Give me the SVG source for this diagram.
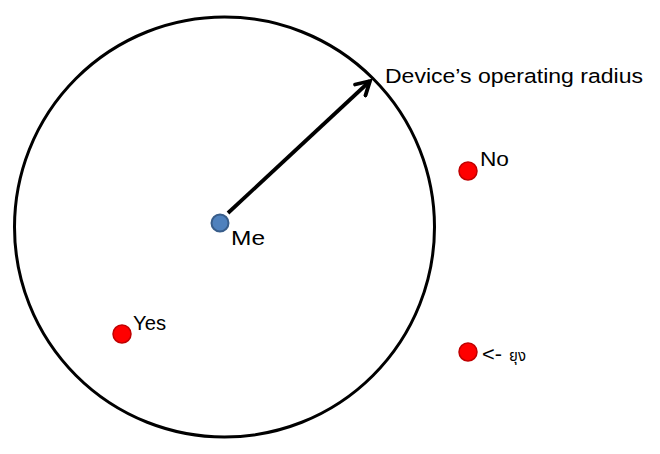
<svg xmlns="http://www.w3.org/2000/svg" width="660" height="454" viewBox="0 0 660 454">
<style>
.t{font-family:"Liberation Sans",Arial,sans-serif;font-size:20.5px;fill:#000}
.red{fill:#ff0000;stroke:#c00000;stroke-width:1.5}
.blue{fill:#4f81bd;stroke:#385d8a;stroke-width:2}
</style>
<defs>
<marker id="ah" viewBox="0 0 10 10" refX="8" refY="5" markerWidth="5" markerHeight="5" orient="auto" markerUnits="strokeWidth">
<path d="M1,1 L8,5 L1,9" fill="none" stroke="#000" stroke-width="2" stroke-linecap="round" stroke-linejoin="miter"/>
</marker>
</defs>
<rect width="660" height="454" fill="#fff"/>
<g id="range">
<ellipse cx="224.5" cy="227" rx="210" ry="210" fill="none" stroke="#000" stroke-width="3"/>
<text class="t" x="385" y="83" textLength="258" lengthAdjust="spacingAndGlyphs">Device’s operating radius</text>
</g>
<g id="connectors">
<line x1="228" y1="213" x2="370" y2="81" stroke="#000" stroke-width="3.8" marker-end="url(#ah)"/>
</g>
<g id="me">
<circle class="blue" cx="220" cy="223" r="8.5"/>
<text class="t" x="231" y="245" textLength="34" lengthAdjust="spacingAndGlyphs">Me</text>
</g>
<g id="yes">
<circle class="red" cx="122" cy="334" r="9"/>
<text class="t" x="133" y="330" textLength="33" lengthAdjust="spacingAndGlyphs">Yes</text>
</g>
<g id="no">
<circle class="red" cx="468" cy="171" r="9"/>
<text class="t" x="480" y="166" textLength="29" lengthAdjust="spacingAndGlyphs">No</text>
</g>
<g id="mosquito">
<circle class="red" cx="468" cy="352" r="9"/>
<text class="t" x="482" y="361"><tspan textLength="20" lengthAdjust="spacingAndGlyphs">&lt;-</tspan><tspan x="509" style="font-family:'Noto Sans Thai','Noto Sans','Liberation Sans',sans-serif;font-size:15px">ยุง</tspan></text>
</g>
</svg>
